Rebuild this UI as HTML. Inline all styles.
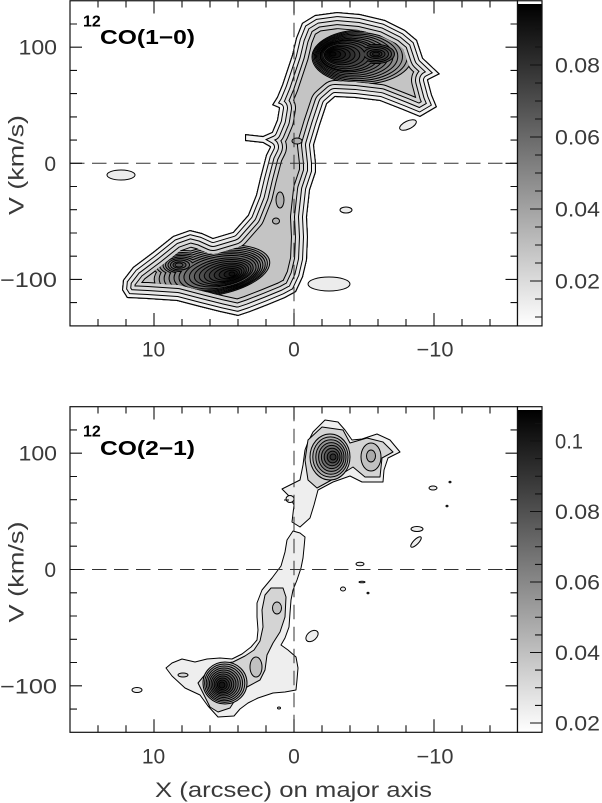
<!DOCTYPE html>
<html><head><meta charset="utf-8"><style>html,body{margin:0;padding:0;background:#fff;width:602px;height:803px;overflow:hidden}svg{display:block}</style></head><body>
<svg width="602" height="803" viewBox="0 0 602 803" xmlns="http://www.w3.org/2000/svg" font-family="'Liberation Sans', sans-serif">
<defs>
<path id="p1" d="M302,23 L315,15 337,12 360,14 385,20 405,30 417,40 423,58 440,74 428,80 432,95 437,107 420,117 403,110 380,101 355,98 335,97 327,104 320,125 314,145 316,163 316,172 310,190 307,217 308,237 307,260 303,277 296,292 285,298 268,305 250,312 238,316 220,312 200,307 177,301 147,299 127,298 122,290 123,280 133,267 153,252 173,236 190,230 202,233 213,238 233,232 248,215 256,195 260,178 266,155 270,147 263,143 245,141 245,134 263,136 272,132 277,120 279,108 272,105 277,97 282,85 287,70 292,55 296,38 Z"/>
<clipPath id="c1"><use href="#p1"/></clipPath>
<mask id="m1" maskUnits="userSpaceOnUse" x="0" y="0" width="602" height="803">
<use href="#p1" fill="#fff"/>
<use href="#p1" fill="none" stroke="#000" stroke-width="32" stroke-linejoin="round"/>
</mask>
<linearGradient id="g1" x1="0" y1="0" x2="0" y2="1"><stop offset="0" stop-color="#000"/><stop offset="1" stop-color="#fff"/></linearGradient>
</defs>
<rect width="602" height="803" fill="#fff"/>

<!-- ================= TOP PANEL ================= -->
<g clip-path="url(#c1)" stroke-linejoin="round">
<use href="#p1" fill="#c4c4c4" stroke="none"/>
<use href="#p1" fill="none" stroke="#000" stroke-width="34"/>
<use href="#p1" fill="none" stroke="#d0d0d0" stroke-width="32"/>
<use href="#p1" fill="none" stroke="#000" stroke-width="26"/>
<use href="#p1" fill="none" stroke="#dcdcdc" stroke-width="24"/>
<use href="#p1" fill="none" stroke="#000" stroke-width="18"/>
<use href="#p1" fill="none" stroke="#e8e8e8" stroke-width="16"/>
<use href="#p1" fill="none" stroke="#000" stroke-width="10"/>
<use href="#p1" fill="none" stroke="#f4f4f4" stroke-width="8"/>
<use href="#p1" fill="none" stroke="#000" stroke-width="2.2"/>

<!-- band small features -->
<ellipse cx="297" cy="141" rx="5" ry="3" fill="#b0b0b0" stroke="#000"/>
<ellipse cx="280" cy="200" rx="4" ry="8" fill="#b0b0b0" stroke="#000"/>
<ellipse cx="276" cy="221" rx="3.5" ry="3" fill="#b0b0b0" stroke="#000"/>
</g>

<g mask="url(#m1)">
<!-- upper blob stack -->
<ellipse cx="362" cy="57" rx="50" ry="27" fill="#a8a8a8" stroke="#000"/>
<ellipse cx="360.2" cy="56.8" rx="47.1" ry="25.4" fill="#9e9e9e" stroke="#000"/>
<ellipse cx="358.4" cy="56.6" rx="44.1" ry="23.9" fill="#949494" stroke="#000"/>
<ellipse cx="356.6" cy="56.4" rx="41.2" ry="22.3" fill="#8a8a8a" stroke="#000"/>
<ellipse cx="354.75" cy="56.25" rx="38.25" ry="20.75" fill="#808080" stroke="#000"/>
<ellipse cx="352.9" cy="56.1" rx="35.3" ry="19.2" fill="#767676" stroke="#000"/>
<ellipse cx="351.1" cy="55.9" rx="32.4" ry="17.6" fill="#6c6c6c" stroke="#000"/>
<ellipse cx="349.3" cy="55.7" rx="29.4" ry="16.1" fill="#626262" stroke="#000"/>
<g>
<ellipse cx="347.5" cy="55.5" rx="26.5" ry="14.5" fill="#000" stroke="#000" stroke-width="2"/>
<ellipse cx="376" cy="54" rx="18" ry="9" fill="#000" stroke="#000" stroke-width="2"/>
<ellipse cx="347.5" cy="55.5" rx="26.5" ry="14.5" fill="#585858"/>
<ellipse cx="376" cy="54" rx="18" ry="9" fill="#585858"/>
</g>
<g>
<ellipse cx="345.7" cy="55.3" rx="23.6" ry="12.9" fill="#000" stroke="#000" stroke-width="2"/>
<ellipse cx="376" cy="54" rx="15" ry="7.5" fill="#000" stroke="#000" stroke-width="2"/>
<ellipse cx="345.7" cy="55.3" rx="23.6" ry="12.9" fill="#4e4e4e"/>
<ellipse cx="376" cy="54" rx="15" ry="7.5" fill="#4e4e4e"/>
</g>
<g>
<ellipse cx="343.9" cy="55.1" rx="20.6" ry="11.4" fill="#000" stroke="#000" stroke-width="2"/>
<ellipse cx="376" cy="54" rx="12" ry="6" fill="#000" stroke="#000" stroke-width="2"/>
<ellipse cx="343.9" cy="55.1" rx="20.6" ry="11.4" fill="#444"/>
<ellipse cx="376" cy="54" rx="12" ry="6" fill="#444"/>
</g>
<ellipse cx="342.1" cy="54.9" rx="17.7" ry="9.8" fill="#3a3a3a" stroke="#000"/>
<ellipse cx="376" cy="54" rx="9" ry="4.5" fill="#3a3a3a" stroke="#000"/>
<ellipse cx="340.25" cy="54.75" rx="14.75" ry="8.25" fill="#303030" stroke="#000"/>
<ellipse cx="376" cy="54" rx="6" ry="3" fill="#303030" stroke="#000"/>
<ellipse cx="338.4" cy="54.6" rx="11.8" ry="6.7" fill="#262626" stroke="#000"/>
<ellipse cx="376" cy="54" rx="3.5" ry="1.8" fill="#262626" stroke="#000"/>
<ellipse cx="336.6" cy="54.4" rx="8.9" ry="5.1" fill="#1c1c1c" stroke="#000"/>
<ellipse cx="334.8" cy="54.2" rx="5.9" ry="3.6" fill="#121212" stroke="#000"/>
<ellipse cx="333" cy="54" rx="3" ry="2" fill="#080808" stroke="#000"/>

<!-- lower blob stack -->
<g>
<ellipse cx="212" cy="271" rx="58" ry="24" transform="rotate(-10 212 271)" fill="#000" stroke="#000" stroke-width="2"/>
<ellipse cx="183" cy="265" rx="30" ry="14" fill="#000" stroke="#000" stroke-width="2"/>
<ellipse cx="212" cy="271" rx="58" ry="24" transform="rotate(-10 212 271)" fill="#a8a8a8"/>
<ellipse cx="183" cy="265" rx="30" ry="14" fill="#a8a8a8"/>
</g>
<g>
<ellipse cx="213.3" cy="271.2" rx="54.3" ry="22.5" transform="rotate(-10 213.3 271.2)" fill="#000" stroke="#000" stroke-width="2"/>
<ellipse cx="182.5" cy="265" rx="26" ry="12" fill="#000" stroke="#000" stroke-width="2"/>
<ellipse cx="213.3" cy="271.2" rx="54.3" ry="22.5" transform="rotate(-10 213.3 271.2)" fill="#9e9e9e"/>
<ellipse cx="182.5" cy="265" rx="26" ry="12" fill="#9e9e9e"/>
</g>
<g>
<ellipse cx="214.7" cy="271.4" rx="50.7" ry="21.1" transform="rotate(-10 214.7 271.4)" fill="#000" stroke="#000" stroke-width="2"/>
<ellipse cx="182" cy="265" rx="22" ry="10.5" fill="#000" stroke="#000" stroke-width="2"/>
<ellipse cx="214.7" cy="271.4" rx="50.7" ry="21.1" transform="rotate(-10 214.7 271.4)" fill="#949494"/>
<ellipse cx="182" cy="265" rx="22" ry="10.5" fill="#949494"/>
</g>
<g>
<ellipse cx="216" cy="271.6" rx="47" ry="19.6" transform="rotate(-10 216 271.6)" fill="#000" stroke="#000" stroke-width="2"/>
<ellipse cx="181.5" cy="265" rx="18" ry="9" fill="#000" stroke="#000" stroke-width="2"/>
<ellipse cx="216" cy="271.6" rx="47" ry="19.6" transform="rotate(-10 216 271.6)" fill="#8a8a8a"/>
<ellipse cx="181.5" cy="265" rx="18" ry="9" fill="#8a8a8a"/>
</g>
<g>
<ellipse cx="217.3" cy="271.8" rx="43.3" ry="18.1" transform="rotate(-10 217.3 271.8)" fill="#000" stroke="#000" stroke-width="2"/>
<ellipse cx="181" cy="265" rx="15" ry="7.5" fill="#000" stroke="#000" stroke-width="2"/>
<ellipse cx="217.3" cy="271.8" rx="43.3" ry="18.1" transform="rotate(-10 217.3 271.8)" fill="#808080"/>
<ellipse cx="181" cy="265" rx="15" ry="7.5" fill="#808080"/>
</g>
<g>
<ellipse cx="218.7" cy="272" rx="39.7" ry="16.7" transform="rotate(-10 218.7 272)" fill="#000" stroke="#000" stroke-width="2"/>
<ellipse cx="180.5" cy="265" rx="12" ry="6" fill="#000" stroke="#000" stroke-width="2"/>
<ellipse cx="218.7" cy="272" rx="39.7" ry="16.7" transform="rotate(-10 218.7 272)" fill="#767676"/>
<ellipse cx="180.5" cy="265" rx="12" ry="6" fill="#767676"/>
</g>
<g>
<ellipse cx="220" cy="272.2" rx="36" ry="15.2" transform="rotate(-10 220 272.2)" fill="#000" stroke="#000" stroke-width="2"/>
<ellipse cx="180" cy="265" rx="9" ry="4.5" fill="#000" stroke="#000" stroke-width="2"/>
<ellipse cx="220" cy="272.2" rx="36" ry="15.2" transform="rotate(-10 220 272.2)" fill="#6c6c6c"/>
<ellipse cx="180" cy="265" rx="9" ry="4.5" fill="#6c6c6c"/>
</g>
<ellipse cx="221.3" cy="272.4" rx="32.3" ry="13.7" transform="rotate(-10 221.3 272.4)" fill="#626262" stroke="#000"/>
<ellipse cx="179.5" cy="265" rx="6.5" ry="3.2" fill="#626262" stroke="#000"/>
<ellipse cx="222.7" cy="272.6" rx="28.7" ry="12.3" transform="rotate(-10 222.7 272.6)" fill="#585858" stroke="#000"/>
<ellipse cx="179" cy="265" rx="4" ry="2" fill="#585858" stroke="#000"/>
<ellipse cx="224" cy="272.8" rx="25" ry="10.8" transform="rotate(-10 224 272.8)" fill="#4e4e4e" stroke="#000"/>
<ellipse cx="225.3" cy="273" rx="21.3" ry="9.3" transform="rotate(-10 225.3 273)" fill="#444" stroke="#000"/>
<ellipse cx="226.7" cy="273.2" rx="17.7" ry="7.9" transform="rotate(-10 226.7 273.2)" fill="#3a3a3a" stroke="#000"/>
<ellipse cx="228" cy="273.4" rx="14" ry="6.4" transform="rotate(-10 228 273.4)" fill="#303030" stroke="#000"/>
<ellipse cx="229.3" cy="273.6" rx="10.3" ry="4.9" transform="rotate(-10 229.3 273.6)" fill="#262626" stroke="#000"/>
<ellipse cx="230.7" cy="273.8" rx="6.7" ry="3.5" transform="rotate(-10 230.7 273.8)" fill="#1c1c1c" stroke="#000"/>
<ellipse cx="232" cy="274" rx="3" ry="2" fill="#121212" stroke="#000"/>
</g>

<!-- isolated top contours -->
<g fill="#ececec" stroke="#000">
<ellipse cx="121" cy="175" rx="14" ry="5"/>
<ellipse cx="346" cy="210" rx="6" ry="3"/>
<ellipse cx="329" cy="284" rx="21" ry="7"/>
<ellipse cx="408" cy="125" rx="9" ry="4" transform="rotate(-25 408 125)"/>
</g>

<!-- dashed lines top -->
<g stroke="#333" stroke-width="1" stroke-dasharray="14.5 7.5" fill="none">
<path d="M70,163.3 H517.5"/>
<path d="M294,0.75 V325.9"/>
</g>

<!-- frame & ticks top -->
<rect x="70" y="0.75" width="447.5" height="325.15" fill="none" stroke="#111" stroke-width="1.2"/>
<path fill="none" stroke="#111" stroke-width="1.1" d="
M98,325.9V319 M126,325.9V319 M182,325.9V319 M210,325.9V319 M238,325.9V319 M266,325.9V319 M322,325.9V319 M350,325.9V319 M378,325.9V319 M406,325.9V319 M462,325.9V319 M490,325.9V319
M154,325.9V313 M294,325.9V313 M434,325.9V313
M98,0.75V7.5 M126,0.75V7.5 M182,0.75V7.5 M210,0.75V7.5 M238,0.75V7.5 M266,0.75V7.5 M322,0.75V7.5 M350,0.75V7.5 M378,0.75V7.5 M406,0.75V7.5 M462,0.75V7.5 M490,0.75V7.5
M154,0.75V13.5 M294,0.75V13.5 M434,0.75V13.5
M70,24H77 M70,70.4H77 M70,93.6H77 M70,116.9H77 M70,140.1H77 M70,186.5H77 M70,209.7H77 M70,233H77 M70,256.2H77 M70,302.6H77
M70,47.2H82 M70,163.3H82 M70,279.4H82
M517.5,24H510.5 M517.5,70.4H510.5 M517.5,93.6H510.5 M517.5,116.9H510.5 M517.5,140.1H510.5 M517.5,186.5H510.5 M517.5,209.7H510.5 M517.5,233H510.5 M517.5,256.2H510.5 M517.5,302.6H510.5
M517.5,47.2H505.5 M517.5,163.3H505.5 M517.5,279.4H505.5"/>

<!-- colorbar top -->
<rect x="517.5" y="0.75" width="24.5" height="3.5" fill="#fff"/>
<rect x="517.5" y="4" width="24.5" height="321.9" fill="url(#g1)"/>
<rect x="517.5" y="0.75" width="24.5" height="325.15" fill="none" stroke="#111" stroke-width="1.2"/>
<path fill="none" stroke="#111" stroke-width="1.1" d="
M542,317H535 M542,299H535 M542,263H535 M542,245H535 M542,227H535 M542,191H535 M542,173H535 M542,155H535 M542,119H535 M542,101H535 M542,83H535 M542,47H535 M542,29H535
M542,281H530 M542,209H530 M542,137H530 M542,65H530"/>

<!-- text top -->
<g fill="#3a3a3a" font-size="21">
<text x="57" y="54.7" text-anchor="end" textLength="38.5" lengthAdjust="spacingAndGlyphs">100</text>
<text x="56" y="170.8" text-anchor="end">0</text>
<text x="57" y="286.9" text-anchor="end" textLength="57" lengthAdjust="spacingAndGlyphs">−100</text>
<text x="153.5" y="356.7" text-anchor="middle">10</text>
<text x="294" y="356.7" text-anchor="middle">0</text>
<text x="435" y="356.7" text-anchor="middle" textLength="37" lengthAdjust="spacingAndGlyphs">−10</text>
<text x="555" y="72.5" textLength="45" lengthAdjust="spacingAndGlyphs">0.08</text>
<text x="555" y="144.5" textLength="45" lengthAdjust="spacingAndGlyphs">0.06</text>
<text x="555" y="216.5" textLength="45" lengthAdjust="spacingAndGlyphs">0.04</text>
<text x="555" y="288.5" textLength="45" lengthAdjust="spacingAndGlyphs">0.02</text>
<text transform="translate(23.5,165) rotate(-90)" text-anchor="middle" textLength="100" lengthAdjust="spacingAndGlyphs">V (km/s)</text>
</g>
<text x="83" y="26.7" font-size="16" font-weight="bold" fill="#000">12</text>
<text x="100" y="44" font-size="20" font-weight="bold" fill="#000" textLength="95" lengthAdjust="spacingAndGlyphs">CO(1−0)</text>

<!-- ================= BOTTOM PANEL ================= -->
<g stroke="#000" stroke-width="1" stroke-linejoin="round">
<!-- L1 -->
<path fill="#eeeeee" d="M308,442 L313,432 325,420 338,422 345,430 352,440 362,439 377,434 390,440 400,452 388,458 384,470 383,482 362,482 350,476 333,482 318,490 314,505 310,518 300,527 292,522 294,505 290,497 282,489 292,484 300,480 303,465 305,450 Z"/>
<path fill="#eeeeee" d="M293,531 L300,533 305,537 304,548 303,558 301,568 297,580 293,590 291,600 290,613 289,627 285,638 281,645 288,650 296,657 298,668 297,680 296,690 285,692 273,693 258,698 248,703 240,709 234,716 218,717 208,706 200,695 185,688 172,676 166,668 172,663 182,659 195,662 207,659 220,658 232,659 242,654 251,647 257,640 258,630 257,617 257,603 262,590 272,578 281,566 285,552 287,540 Z"/>
<!-- L2 -->
<path fill="#d4d4d4" d="M308,440 L322,427 343,430 350,443 367,438 383,442 393,452 382,458 380,477 365,477 353,467 337,477 317,488 308,480 305,460 Z"/>
<path fill="#d4d4d4" d="M203,677 L209,670 218,664 233,662 245,656 254,650 260,641 263,627 262,610 265,595 271,588 283,588 286,597 285,617 280,632 273,643 267,655 265,670 260,680 247,687 237,697 230,708 218,712 210,707 203,693 198,683 Z"/>
<ellipse cx="183" cy="675" rx="5" ry="2" fill="#d4d4d4"/>
<!-- L3+ upper -->
<ellipse cx="330" cy="457" rx="20" ry="23" fill="#c0c0c0"/>
<ellipse cx="330.4" cy="457" rx="17.6" ry="20.1" fill="#aaaaaa"/>
<ellipse cx="330.9" cy="457" rx="15.1" ry="17.3" fill="#969696"/>
<ellipse cx="331.3" cy="457" rx="12.7" ry="14.4" fill="#828282"/>
<ellipse cx="331.7" cy="457" rx="10.3" ry="11.6" fill="#6e6e6e"/>
<ellipse cx="332.1" cy="457" rx="7.9" ry="8.7" fill="#5a5a5a"/>
<ellipse cx="332.6" cy="457" rx="5.4" ry="5.9" fill="#464646"/>
<ellipse cx="333" cy="457" rx="3" ry="3" fill="#323232"/>
<ellipse cx="371" cy="457" rx="10" ry="14" fill="#c0c0c0"/>
<ellipse cx="371" cy="456" rx="4.5" ry="6" fill="#aaaaaa"/>
<!-- L3 band/lobe -->
<ellipse cx="277" cy="608" rx="4.5" ry="6" fill="#c0c0c0"/>
<ellipse cx="256" cy="667" rx="6" ry="10" fill="#c0c0c0"/>
<!-- L3+ lower -->
<ellipse cx="225" cy="683" rx="22" ry="21" fill="#c0c0c0"/>
<ellipse cx="224.7" cy="683.2" rx="20.1" ry="19.2" fill="#afafaf"/>
<ellipse cx="224.4" cy="683.4" rx="18.2" ry="17.4" fill="#9e9e9e"/>
<ellipse cx="224.1" cy="683.6" rx="16.3" ry="15.6" fill="#8d8d8d"/>
<ellipse cx="223.8" cy="683.8" rx="14.4" ry="13.8" fill="#7c7c7c"/>
<ellipse cx="223.5" cy="684" rx="12.5" ry="12" fill="#6b6b6b"/>
<ellipse cx="223.2" cy="684.2" rx="10.6" ry="10.2" fill="#5a5a5a"/>
<ellipse cx="222.9" cy="684.4" rx="8.7" ry="8.4" fill="#494949"/>
<ellipse cx="222.6" cy="684.6" rx="6.8" ry="6.6" fill="#383838"/>
<ellipse cx="222.3" cy="684.8" rx="4.9" ry="4.8" fill="#272727"/>
<ellipse cx="222" cy="685" rx="3" ry="3" fill="#161616"/>
<!-- isolated -->
<g fill="#eeeeee">
<ellipse cx="137" cy="690" rx="5" ry="2.5"/>
<ellipse cx="279" cy="708" rx="1.5" ry="1"/>
<ellipse cx="312" cy="636" rx="7" ry="4.5" transform="rotate(-40 312 636)"/>
<ellipse cx="343" cy="589" rx="2.5" ry="2"/>
<ellipse cx="433" cy="488" rx="4" ry="2"/>
<ellipse cx="450" cy="482" rx="1" ry="0.8"/>
<ellipse cx="447" cy="506" rx="1" ry="0.8"/>
<ellipse cx="417" cy="529" rx="6" ry="2.5"/>
<ellipse cx="416" cy="542" rx="7" ry="2.5" transform="rotate(-45 416 542)"/>
<ellipse cx="360" cy="564" rx="4" ry="1.8"/>
<ellipse cx="362" cy="582" rx="3" ry="0.8"/>
<ellipse cx="368" cy="593" rx="1" ry="0.8"/>
<ellipse cx="290" cy="499" rx="4" ry="3.5"/>
</g>
<path d="M284,500 H289" fill="none"/>
</g>

<!-- dashed lines bottom -->
<g stroke="#333" stroke-width="1" stroke-dasharray="14.5 7.5" fill="none">
<path d="M70,569.5 H517.5"/>
<path d="M294,406.7 V732.3"/>
</g>

<!-- frame & ticks bottom -->
<rect x="70" y="406.7" width="447.5" height="325.6" fill="none" stroke="#111" stroke-width="1.2"/>
<path fill="none" stroke="#111" stroke-width="1.1" d="
M98,732.3V725.3 M126,732.3V725.3 M182,732.3V725.3 M210,732.3V725.3 M238,732.3V725.3 M266,732.3V725.3 M322,732.3V725.3 M350,732.3V725.3 M378,732.3V725.3 M406,732.3V725.3 M462,732.3V725.3 M490,732.3V725.3
M154,732.3V719.3 M294,732.3V719.3 M434,732.3V719.3
M98,406.7V413.5 M126,406.7V413.5 M182,406.7V413.5 M210,406.7V413.5 M238,406.7V413.5 M266,406.7V413.5 M322,406.7V413.5 M350,406.7V413.5 M378,406.7V413.5 M406,406.7V413.5 M462,406.7V413.5 M490,406.7V413.5
M154,406.7V419.5 M294,406.7V419.5 M434,406.7V419.5
M70,429.9H77 M70,476.5H77 M70,499.7H77 M70,523H77 M70,546.2H77 M70,592.8H77 M70,616H77 M70,639.3H77 M70,662.5H77 M70,709.1H77
M70,453.2H82 M70,569.5H82 M70,685.8H82
M517.5,429.9H510.5 M517.5,476.5H510.5 M517.5,499.7H510.5 M517.5,523H510.5 M517.5,546.2H510.5 M517.5,592.8H510.5 M517.5,616H510.5 M517.5,639.3H510.5 M517.5,662.5H510.5 M517.5,709.1H510.5
M517.5,453.2H505.5 M517.5,569.5H505.5 M517.5,685.8H505.5"/>

<!-- colorbar bottom -->
<rect x="517.5" y="406.7" width="24.5" height="3.5" fill="#fff"/>
<rect x="517.5" y="410" width="24.5" height="322.3" fill="url(#g1)"/>
<rect x="517.5" y="406.7" width="24.5" height="325.6" fill="none" stroke="#111" stroke-width="1.2"/>
<path fill="none" stroke="#111" stroke-width="1.1" d="
M542,705.4H535 M542,687.75H535 M542,670.1H535 M542,634.9H535 M542,617.25H535 M542,599.6H535 M542,564.4H535 M542,546.75H535 M542,529.1H535 M542,493.9H535 M542,476.25H535 M542,458.6H535 M542,423.4H535
M542,723H530 M542,652.5H530 M542,582H530 M542,511.5H530 M542,441H530"/>

<!-- text bottom -->
<g fill="#3a3a3a" font-size="21">
<text x="57" y="460.7" text-anchor="end" textLength="38.5" lengthAdjust="spacingAndGlyphs">100</text>
<text x="56" y="577" text-anchor="end">0</text>
<text x="57" y="693.3" text-anchor="end" textLength="57" lengthAdjust="spacingAndGlyphs">−100</text>
<text x="153.5" y="763.3" text-anchor="middle">10</text>
<text x="294" y="763.3" text-anchor="middle">0</text>
<text x="435" y="763.3" text-anchor="middle" textLength="37" lengthAdjust="spacingAndGlyphs">−10</text>
<text x="555" y="448.5" textLength="28" lengthAdjust="spacingAndGlyphs">0.1</text>
<text x="555" y="519" textLength="45" lengthAdjust="spacingAndGlyphs">0.08</text>
<text x="555" y="589.5" textLength="45" lengthAdjust="spacingAndGlyphs">0.06</text>
<text x="555" y="660" textLength="45" lengthAdjust="spacingAndGlyphs">0.04</text>
<text x="555" y="730.5" textLength="45" lengthAdjust="spacingAndGlyphs">0.02</text>
<text transform="translate(23.5,572) rotate(-90)" text-anchor="middle" textLength="101" lengthAdjust="spacingAndGlyphs">V (km/s)</text>
<text x="155" y="797" textLength="277" lengthAdjust="spacingAndGlyphs">X (arcsec) on major axis</text>
</g>
<text x="83" y="436.7" font-size="16" font-weight="bold" fill="#000">12</text>
<text x="100" y="455" font-size="20" font-weight="bold" fill="#000" textLength="95" lengthAdjust="spacingAndGlyphs">CO(2−1)</text>
</svg>
</body></html>
